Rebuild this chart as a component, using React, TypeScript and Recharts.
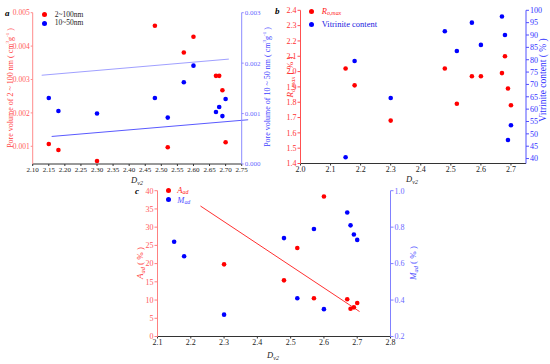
import React from 'react'
import { ScatterChart, Scatter, XAxis, YAxis, Legend, ReferenceLine } from 'recharts'

const serif = '"Liberation Serif", "Times New Roman", serif'

// Dv2 of the 11 coal samples (shared by all panels)
const dv2 = [2.15, 2.18, 2.3, 2.48, 2.52, 2.57, 2.6, 2.67, 2.68, 2.69, 2.7]

// panel a
const pore2to100 = [0.00107, 0.00089, 0.00056, 0.00461, 0.00097, 0.00381, 0.00428, 0.00311, 0.00311, 0.00268, 0.00112]
const pore10to50 = [0.00131, 0.00105, 0.001, 0.00131, 0.00092, 0.00162, 0.00195, 0.00103, 0.00113, 0.00095, 0.00129]
const fitUpperA = [{ x: 2.128, y: 0.00176 }, { x: 2.71, y: 0.00208 }]
const fitLowerA = [{ x: 2.159, y: 0.000546 }, { x: 2.77, y: 0.000877 }]
const xTicksA = [2.1, 2.15, 2.2, 2.25, 2.3, 2.35, 2.4, 2.45, 2.5, 2.55, 2.6, 2.65, 2.7, 2.75]
const leftTicksA = [0.001, 0.002, 0.003, 0.004, 0.005]
const rightTicksA = [0, 0.001, 0.002, 0.003]

// panel b
const roMax = [2.02, 1.91, 1.68, 2.02, 1.79, 1.97, 1.97, 1.99, 2.1, 1.89, 1.78]
const vitrinite = [40.5, 79.5, 64.5, 91.5, 83.5, 95, 86, 97.5, 90, 47.5, 53.5]
const xTicksB = [2.0, 2.1, 2.2, 2.3, 2.4, 2.5, 2.6, 2.7]
const leftTicksB = [1.4, 1.5, 1.6, 1.7, 1.8, 1.9, 2.0, 2.1, 2.2, 2.3, 2.4]
const rightTicksB = [40, 45, 50, 55, 60, 65, 70, 75, 80, 85, 90, 95, 100]

// panel c
const dv2Ash = [2.3, 2.48, 2.52, 2.57, 2.6, 2.67, 2.68, 2.69, 2.7]
const ash = [19.8, 15.4, 24.3, 10.5, 38.4, 10.2, 7.6, 8.0, 9.2]
const moisture = [0.72, 0.64, 0.32, 0.74, 0.41, 0.79, 0.35, 0.88, 0.81, 0.76, 0.73]
const fitAsh = [{ x: 2.229, y: 35.8 }, { x: 2.707, y: 6.85 }]
const xTicksC = [2.1, 2.2, 2.3, 2.4, 2.5, 2.6, 2.7, 2.8]
const leftTicksC = [0, 5, 10, 15, 20, 25, 30, 35, 40]
const rightTicksC = [0.2, 0.4, 0.6, 0.8, 1.0]

const toPoints = (xs: number[], ys: number[]) => xs.map((x, i) => ({ x, y: ys[i] }))

const Dot = (props: any) => <circle cx={props.cx} cy={props.cy} r={2.3} fill={props.fill} />

// legend rows follow the order of `items`, colours come from the series
const ChartLegend = ({ payload, rowHeight, fontSize, gap, items }: any) => (
  <div style={{ fontFamily: serif, fontSize }}>
    {items.map((item: any) => {
      const entry = (payload || []).find((p: any) => p.value === item.name)
      return (
        <div key={item.name} style={{ display: 'flex', alignItems: 'center', height: rowHeight, whiteSpace: 'nowrap' }}>
          <span style={{ width: 5, height: 5, borderRadius: '50%', background: entry ? entry.color : item.color, marginRight: gap, flexShrink: 0 }} />
          <span style={{ color: item.color, lineHeight: 1 }}>{item.node}</span>
        </div>
      )
    })}
  </div>
)

const Sub = ({ children }: any) => (
  <i style={{ fontSize: '70%', verticalAlign: '-0.25em', lineHeight: 0 }}>{children}</i>
)

const Title = ({ x, y, color, size = 8, children }: any) => (
  <text
    transform={`translate(${x},${y}) rotate(-90)`}
    textAnchor="middle"
    dominantBaseline="central"
    fill={color}
    fontSize={size}
    fontFamily={serif}
  >
    {children}
  </text>
)

const Dv2 = ({ x, y }: any) => (
  <text x={x} y={y} textAnchor="middle" fontSize={8.5} fontFamily={serif} fill="#222">
    <tspan fontStyle="italic">D</tspan>
    <tspan fontStyle="italic" fontSize={6} dy={2}>v2</tspan>
  </text>
)

const unitCm = (
  <>
    {' ( cm'}
    <tspan dy={-3} fontSize={5}>3</tspan>
    <tspan dy={3}>g</tspan>
    <tspan dy={-3} fontSize={5}>-1</tspan>
    <tspan dy={3}>{' )'}</tspan>
  </>
)

export default function App() {
  const xTick = { fill: '#222', fontSize: 7, fontFamily: serif }
  return (
    <div style={{ position: 'absolute', left: 0, top: 0, width: 550, height: 364, background: '#fff' }}>
      {/* a */}
      <div style={{ position: 'absolute', left: 0, top: 0 }}>
        <ScatterChart width={275} height={185} margin={{ top: 12.7, right: 3.3, bottom: 1, left: 2.7 }}>
          <XAxis type="number" dataKey="x" domain={[2.1, 2.75]} ticks={xTicksA} interval={0}
            tickFormatter={(v) => v.toFixed(2)} tick={xTick} stroke="#333" tickSize={2} tickMargin={1} height={20} />
          <YAxis yAxisId="l" type="number" dataKey="y" domain={[0.00047, 0.005]} ticks={leftTicksA} interval={0}
            tickFormatter={(v) => v.toFixed(3)} tick={{ fill: '#ff5a5a', fontSize: 7.5, fontFamily: serif }}
            stroke="#ff8c8c" tickSize={2} tickMargin={1} width={30} />
          <YAxis yAxisId="r" orientation="right" type="number" dataKey="y" domain={[0, 0.003]} ticks={rightTicksA} interval={0}
            tickFormatter={(v) => v.toFixed(3)} tick={{ fill: '#6a6aff', fontSize: 7, fontFamily: serif }}
            stroke="#8c8cff" tickSize={2} tickMargin={1} width={30} />
          <ReferenceLine yAxisId="r" segment={fitUpperA} stroke="#a0a0ff" strokeWidth={1} ifOverflow="visible" />
          <ReferenceLine yAxisId="r" segment={fitLowerA} stroke="#5a5aff" strokeWidth={1} ifOverflow="visible" />
          <Scatter yAxisId="l" name="2~100nm" data={toPoints(dv2, pore2to100)} fill="#ff0000" shape={Dot} isAnimationActive={false} />
          <Scatter yAxisId="r" name="10~50nm" data={toPoints(dv2, pore10to50)} fill="#0000ff" shape={Dot} isAnimationActive={false} />
          <Legend layout="vertical" align="center" verticalAlign="middle" wrapperStyle={{ left: 41.8, top: 10.8, width: 'auto' }}
            content={<ChartLegend rowHeight={8.3} fontSize={7.5} gap={8}
              items={[
                { name: '2~100nm', node: '2~100nm', color: '#222' },
                { name: '10~50nm', node: '10~50nm', color: '#222' },
              ]} />} />
        </ScatterChart>
      </div>

      {/* b */}
      <div style={{ position: 'absolute', left: 275, top: 0 }}>
        <ScatterChart width={275} height={185} margin={{ top: 10.3, right: 4, bottom: 1.5, left: 5.5 }}>
          <XAxis type="number" dataKey="x" domain={[2.0, 2.75]} ticks={xTicksB} interval={0}
            tickFormatter={(v) => v.toFixed(1)} tick={{ ...xTick, fontSize: 8 }} stroke="#333" tickSize={2} tickMargin={1} height={20} />
          <YAxis yAxisId="l" type="number" dataKey="y" domain={[1.4, 2.4]} ticks={leftTicksB} interval={0}
            tickFormatter={(v) => v.toFixed(1)} tick={{ fill: '#ff3030', fontSize: 8, fontFamily: serif }}
            stroke="#ff5050" tickSize={3} tickMargin={1} width={20} />
          <YAxis yAxisId="r" orientation="right" type="number" dataKey="y" domain={[38, 100]} ticks={rightTicksB} interval={0}
            tick={{ fill: '#3030ff', fontSize: 8, fontFamily: serif }}
            stroke="#5050ff" tickSize={3} tickMargin={1} width={20} />
          <Scatter yAxisId="l" name="Ro,max" data={toPoints(dv2, roMax)} fill="#ff0000" shape={Dot} isAnimationActive={false} />
          <Scatter yAxisId="r" name="Vitrinite content" data={toPoints(dv2, vitrinite)} fill="#0000ff" shape={Dot} isAnimationActive={false} />
          <Legend layout="vertical" align="center" verticalAlign="middle" wrapperStyle={{ left: 34.2, top: 4.4, width: 'auto' }}
            content={<ChartLegend rowHeight={13.3} fontSize={8.5} gap={7.5}
              items={[
                { name: 'Ro,max', node: <><i>R</i><Sub>o,max</Sub></>, color: '#ff2020' },
                { name: 'Vitrinite content', node: 'Vitrinite content', color: '#2020e0' },
              ]} />} />
        </ScatterChart>
      </div>

      {/* c */}
      <div style={{ position: 'absolute', left: 120, top: 180 }}>
        <ScatterChart width={320} height={184} margin={{ top: 10.7, right: 24.5, bottom: 7.5, left: 12.5 }}>
          <XAxis type="number" dataKey="x" domain={[2.1, 2.8]} ticks={xTicksC} interval={0}
            tickFormatter={(v) => v.toFixed(1)} tick={{ ...xTick, fontSize: 8 }} stroke="#333" tickSize={2} tickMargin={1} height={20} />
          <YAxis yAxisId="l" type="number" dataKey="y" domain={[0, 40]} ticks={leftTicksC} interval={0}
            tick={{ fill: '#ff5a5a', fontSize: 8, fontFamily: serif }}
            stroke="#ff8080" tickSize={3} tickMargin={1} width={25} />
          <YAxis yAxisId="r" orientation="right" type="number" dataKey="y" domain={[0.2, 1.0]} ticks={rightTicksC} interval={0}
            tickFormatter={(v) => v.toFixed(1)} tick={{ fill: '#6a6aff', fontSize: 8, fontFamily: serif }}
            stroke="#8080ff" tickSize={3} tickMargin={1} width={25} />
          <ReferenceLine yAxisId="l" segment={fitAsh} stroke="#ff3030" strokeWidth={1} ifOverflow="visible" />
          <Scatter yAxisId="l" name="Aad" data={toPoints(dv2Ash, ash)} fill="#ff0000" shape={Dot} isAnimationActive={false} />
          <Scatter yAxisId="r" name="Mad" data={toPoints(dv2, moisture)} fill="#0000ff" shape={Dot} isAnimationActive={false} />
          <Legend layout="vertical" align="center" verticalAlign="middle" wrapperStyle={{ left: 45.8, top: 6, width: 'auto' }}
            content={<ChartLegend rowHeight={9.3} fontSize={8.5} gap={6.5}
              items={[
                { name: 'Aad', node: <><i>A</i><Sub>ad</Sub></>, color: '#ff2020' },
                { name: 'Mad', node: <><i>M</i><Sub>ad</Sub></>, color: '#5050ff' },
              ]} />} />
        </ScatterChart>
      </div>

      {/* titles and panel letters */}
      <svg width={550} height={364} style={{ position: 'absolute', left: 0, top: 0, pointerEvents: 'none' }}>
        <text x={5} y={16} fontSize={9} fontWeight="bold" fontStyle="italic" fontFamily={serif}>a</text>
        <text x={275} y={14} fontSize={9} fontWeight="bold" fontStyle="italic" fontFamily={serif}>b</text>
        <text x={135} y={194} fontSize={9} fontWeight="bold" fontStyle="italic" fontFamily={serif}>c</text>

        <Title x={10} y={88} color="#ff4040">Pore volume of 2 ~ 100 nm{unitCm}</Title>
        <Title x={267} y={87} color="#4040ff">Pore volume of 10 ~ 50 nm{unitCm}</Title>
        <Dv2 x={137} y={183} />

        <Title x={290} y={77} color="#ff3030" size={9}>
          <tspan fontStyle="italic">R</tspan>
          <tspan fontStyle="italic" fontSize={6.3} dy={2}>o,max</tspan>
          <tspan dy={-2}>{' ( % )'}</tspan>
        </Title>
        <Title x={543} y={80} color="#3030ff" size={9.5}>Vitrinite content ( % )</Title>
        <Dv2 x={412} y={182} />

        <Title x={140} y={263} color="#ff4040" size={9}>
          <tspan fontStyle="italic">A</tspan>
          <tspan fontStyle="italic" fontSize={6.3} dy={2}>ad</tspan>
          <tspan dy={-2}>{' ( % )'}</tspan>
        </Title>
        <Title x={413} y={263} color="#5050ff" size={9}>
          <tspan fontStyle="italic">M</tspan>
          <tspan fontStyle="italic" fontSize={6.3} dy={2}>ad</tspan>
          <tspan dy={-2}>{' ( % )'}</tspan>
        </Title>
        <Dv2 x={273} y={358} />
      </svg>
    </div>
  )
}
